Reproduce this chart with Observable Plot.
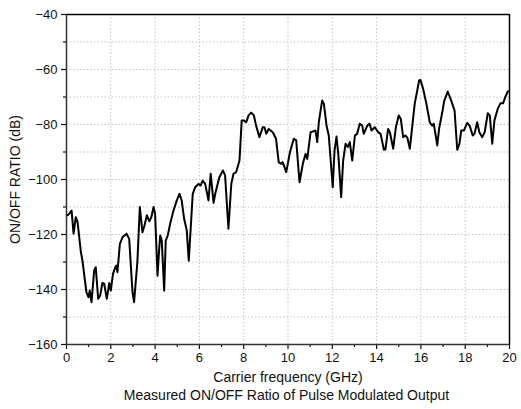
<!DOCTYPE html>
<html>
<head>
<meta charset="utf-8">
<script src="https://cdn.jsdelivr.net/npm/d3@7"></script>
<script src="https://cdn.jsdelivr.net/npm/@observablehq/plot@0.6"></script>
<style>
  body { margin: 0; background: white; }
  #cap { width: 521px; margin: 0; padding-left: 52px; box-sizing: border-box; text-align: center;
         font-family: "Liberation Sans", Arial, sans-serif; font-size: 14px; color: #111; line-height: 16px; margin-top: -1px; }
</style>
</head>
<body>
<div id="chart"></div>
<div id="cap">Measured ON/OFF Ratio of Pulse Modulated Output</div>
<script>
const freq = [0.05,0.12,0.23,0.32,0.42,0.5,0.65,0.72,0.9,0.99,1.05,1.13,1.25,1.32,1.43,1.52,1.62,1.70,1.82,1.93,2.0,2.1,2.2,2.25,2.3,2.41,2.53,2.71,2.83,2.98,3.05,3.2,3.31,3.43,3.52,3.63,3.74,3.83,3.93,4.0,4.11,4.18,4.23,4.3,4.41,4.48,4.57,4.68,4.83,4.98,5.1,5.2,5.31,5.43,5.52,5.61,5.7,5.81,5.96,6.05,6.15,6.26,6.41,6.51,6.64,6.72,6.9,7.06,7.16,7.31,7.44,7.54,7.66,7.81,7.91,8.0,8.11,8.22,8.34,8.46,8.56,8.71,8.86,8.94,9.02,9.13,9.31,9.46,9.58,9.69,9.76,9.92,10.09,10.26,10.37,10.52,10.67,10.79,10.87,11.02,11.17,11.24,11.32,11.39,11.54,11.62,11.74,11.84,12.02,12.1,12.19,12.27,12.4,12.49,12.6,12.7,12.79,12.9,13.02,13.12,13.24,13.35,13.42,13.58,13.68,13.77,13.92,14.07,14.18,14.33,14.4,14.52,14.6,14.75,14.87,15.0,15.09,15.2,15.3,15.39,15.5,15.72,15.92,15.98,16.1,16.25,16.4,16.51,16.58,16.74,16.82,16.98,17.05,17.21,17.37,17.52,17.64,17.74,17.82,17.94,18.09,18.2,18.34,18.42,18.54,18.64,18.77,18.88,19.02,19.11,19.22,19.32,19.47,19.59,19.71,19.82,19.93];
const ratio = [-113,-112.5,-111.3,-119.7,-113.7,-115.5,-126.4,-129.5,-141,-142.8,-140.4,-144.6,-133,-131.9,-143.4,-142.2,-137.6,-137.9,-143.4,-137.6,-140.4,-134.3,-131.9,-131.3,-133.7,-123.4,-121,-119.7,-121.6,-141,-144.6,-130,-110,-119.2,-116.7,-113,-115.2,-113.7,-110,-112.5,-135,-125.8,-120.4,-122.2,-140.4,-122.2,-120.4,-116.1,-111.3,-107.6,-105.2,-107.6,-114.3,-118.5,-129.5,-117.3,-105.2,-102.8,-101.6,-102.2,-100.4,-101.6,-107.6,-97.9,-108.5,-105,-99.2,-96.7,-98.5,-117.9,-101.6,-97.9,-97.3,-93.1,-78.5,-78.5,-79.2,-76.7,-75.7,-76.7,-80.4,-84.6,-81,-81,-83.4,-81.6,-82.8,-85.2,-93.7,-94.3,-93.7,-97.3,-90,-85.2,-85.8,-101,-94.3,-90.7,-92.5,-82.8,-82.4,-82.2,-86.4,-79.2,-71.3,-72.5,-80.4,-84,-102.8,-89.5,-84.4,-90.7,-106.4,-93.1,-87,-88.2,-86.4,-93.1,-84,-83.4,-79.7,-80.4,-83.4,-80.4,-79.7,-82.2,-81,-82.8,-83.4,-89.2,-89,-81.6,-82.8,-88.8,-81,-76.7,-77.9,-84.6,-84,-84.8,-88.8,-72.5,-64,-63.8,-67,-72.5,-79.2,-80.4,-79.7,-87.6,-81.6,-74.9,-71.5,-68,-71.3,-74.9,-89.2,-87,-82.2,-82.2,-79.4,-80.4,-84,-83.4,-79.2,-82.8,-84.6,-82.8,-75.9,-76.7,-87,-78.5,-74.3,-72.3,-72.3,-69.8,-67.9];
const xMajor = [0,2,4,6,8,10,12,14,16,18,20];
const xMinor = [1,3,5,7,9,11,13,15,17,19];
const yMajor = [-160,-140,-120,-100,-80,-60,-40];
const yMinor = [-150,-130,-110,-90,-70,-50];
const xGrid = [2,4,6,8,10,12,14,16,18];
const yGrid = [-150,-140,-130,-120,-110,-100,-90,-80,-70,-60,-50];
const xLabel = "Carrier frequency (GHz)";
const yLabel = "ON/OFF RATIO (dB)";

const data = freq.map((f, i) => ({f, v: ratio[i]}));
const gridStyle = {stroke: "#c4c4c4", strokeDasharray: "1.5,2", strokeWidth: 1};

const chart = Plot.plot({
  width: 521,
  height: 388,
  marginLeft: 66,
  marginRight: 12,
  marginTop: 14,
  marginBottom: 44,
  style: {fontFamily: "'Liberation Sans', Arial, sans-serif", fontSize: "13px", color: "#111", background: "white"},
  x: {domain: [0, 20]},
  y: {domain: [-160, -40]},
  marks: [
    Plot.ruleX(xGrid, gridStyle),
    Plot.ruleY(yGrid, gridStyle),
    Plot.axisX(xMinor, {tickSize: 3, tickFormat: () => "", label: null, strokeWidth: 1.2}),
    Plot.axisX(xMajor, {tickSize: 5, tickPadding: 3, strokeWidth: 1.2, label: null}),
    Plot.axisY(yMinor, {tickSize: 3, tickFormat: () => "", label: null, strokeWidth: 1.2}),
    Plot.axisY(yMajor, {tickSize: 5, tickPadding: 4, strokeWidth: 1.2, label: null}),
    Plot.text([xLabel], {frameAnchor: "bottom", dy: 37, fontSize: 14, fill: "#111"}),
    Plot.text([yLabel], {frameAnchor: "left", textAnchor: "middle", dx: -51, rotate: -90, fontSize: 14, fill: "#111"}),
    Plot.ruleY([-40], {stroke: "black", strokeWidth: 1.5}),
    Plot.ruleX([20], {stroke: "black", strokeWidth: 1.5}),
    Plot.ruleX([0], {stroke: "#333", strokeWidth: 1.5}),
    Plot.ruleY([-160], {stroke: "#333", strokeWidth: 1.5}),
    Plot.line(data, {x: "f", y: "v", stroke: "black", strokeWidth: 2, curve: "linear"})
  ]
});
document.getElementById("chart").appendChild(chart);
</script>
</body>
</html>
